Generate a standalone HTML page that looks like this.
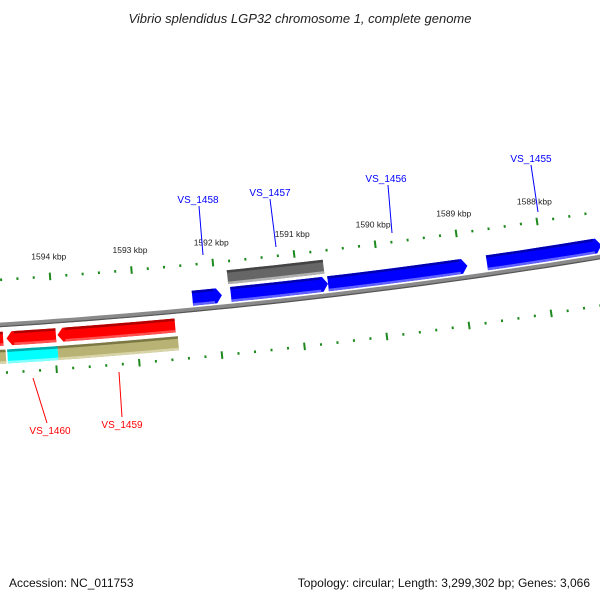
<!DOCTYPE html>
<html><head><meta charset="utf-8">
<style>
html,body{margin:0;padding:0;background:#fff;}
svg{display:block;font-family:"Liberation Sans","DejaVu Sans",sans-serif;}
</style></head>
<body>
<svg id="map" width="600" height="600" viewBox="0 0 600 600" xmlns="http://www.w3.org/2000/svg">
<rect x="0" y="0" width="600" height="600" fill="#fff"/>
<text x="300" y="23" text-anchor="middle" font-size="13" font-style="italic" fill="#222">Vibrio splendidus LGP32 chromosome 1, complete genome</text>
<text x="9" y="587" font-size="12" fill="#111">Accession: NC_011753</text>
<text x="590" y="587" text-anchor="end" font-size="12" fill="#111">Topology: circular; Length: 3,299,302 bp; Genes: 3,066</text>
<g id="layer"></g>
</svg>
<script>
// data
const majorTicks = [1595,1594,1593,1592,1591,1590,1589,1588,1587];
const tickLabels = ["1594 kbp","1593 kbp","1592 kbp","1591 kbp","1590 kbp","1589 kbp","1588 kbp"];
const tickLabelKbp = [1594,1593,1592,1591,1590,1589,1588];
const fwdStarts = [1592.29,1591.82,1590.63,1588.68];
const fwdEnds   = [1591.93,1590.63,1588.92,1587.27];
const grayStarts = [1591.84];
const grayEnds   = [1590.66];
const revStarts = [1594.75,1594.58,1593.96];
const revEnds   = [1594.62,1593.98,1592.53];
const cyanStarts = [1594.58];
const cyanEnds   = [1593.97];
const oliveStarts = [1594.75,1593.97];
const oliveEnds   = [1594.6,1592.51];
const geneNames = ["VS_1458","VS_1457","VS_1456","VS_1455","VS_1460","VS_1459"];
const geneLabelX = [198,270,386,531,50,122];
const geneLabelY = [203,196,182,162,434,428];
const geneLineFrom = [[199,206],[270,199],[388,185],[531,165],[33,378],[119,372]];
const geneLineTo = [[203,255],[276,247],[392,233],[538,212],[47,423],[122,417]];

// geometry
const R=6000, CX=-373.5, CY=-5663.5;
const PHI0=0.07118, DPHI=0.01372;
function phi(k){return PHI0+(1594-k)*DPHI;}
function pt(k,d){const p=phi(k),r=R-d;return [CX+r*Math.sin(p),CY+r*Math.cos(p)];}
const layer=document.getElementById('layer');
const NS='http://www.w3.org/2000/svg';
function mk(tag,attrs){const e=document.createElementNS(NS,tag);for(const a in attrs)e.setAttribute(a,attrs[a]);layer.appendChild(e);return e;}
function arcPts(k1,k2,d,n){const a=[];for(let i=0;i<=n;i++){a.push(pt(k1+(k2-k1)*i/n,d));}return a;}
function ps(a){return a.map(p=>p[0].toFixed(1)+','+p[1].toFixed(1)).join(' ');}

// backbone
let bb=arcPts(1595,1586.5,0,40);
let e=mk('polyline',{points:ps(bb),fill:'none',stroke:'#8a8a8a','stroke-width':4.5});


e=mk('polyline',{points:ps(arcPts(1595,1586.5,-1.8,40)),fill:'none',stroke:'#555','stroke-width':1.2});



// ticks
function tickRing(d,name){
  for(let i=0;i<=45;i++){
    const k=1595.4-i*0.2;
    const isMajor=Math.abs(k-Math.round(k))<0.01;
    const h=isMajor?3.8:1.3;
    const a=pt(k,d-h),b=pt(k,d+h);
    const t=mk('line',{x1:a[0],y1:a[1],x2:b[0],y2:b[1],stroke:'#1e8a1e','stroke-width':2});
    
    
  }
}
tickRing(45,'inner-ruler');
tickRing(-48,'outer-ruler');
tickLabelKbp.forEach((k,i)=>{
  const p=pt(k,62);
  const t=mk('text',{x:p[0].toFixed(1),y:p[1].toFixed(1),'text-anchor':'middle','font-size':'8.5',fill:'#222'});
  t.textContent=tickLabels[i];
  
  
});

// features
function feature(k1,k2,d1,d2,dir,main,dark,light,name){
  const AL=0.065;
  let pts;
  if(dir===0){pts=arcPts(k1,k2,d2,6).concat(arcPts(k2,k1,d1,6));}
  else{
    // dir 1: arrow at k2 end
    const kb=k2+(k1>k2?AL:-AL);
    pts=arcPts(k1,kb,d2,6).concat([pt(k2,(d1+d2)/2)]).concat(arcPts(kb,k1,d1,6));
  }
  const g=mk('polygon',{points:ps(pts),fill:main});
  
  
  const kb2=dir===0?k2:k2+(k1>k2?AL*1.4:-AL*1.4);
  const top=arcPts(k1,kb2,d2,6).concat(arcPts(kb2,k1,d2-2.5,6));
  let s=mk('polygon',{points:ps(top),fill:dark});
  
  
  const bot=arcPts(k1,kb2,d1+2.5,6).concat(arcPts(kb2,k1,d1,6));
  s=mk('polygon',{points:ps(bot),fill:light});
  
  
}
fwdStarts.forEach((k,i)=>feature(k,fwdEnds[i],4,19,1,'#0000ff','#0000b0','#6060ff','forward-gene'));
grayStarts.forEach((k,i)=>feature(k,grayEnds[i],22,36,0,'#666666','#444444','#b0b0b0','gray-feature'));
revStarts.forEach((k,i)=>feature(revEnds[i],k,-21,-7,1,'#ff0000','#b00000','#ff5050','reverse-gene'));
cyanStarts.forEach((k,i)=>feature(k,cyanEnds[i],-39,-25,0,'#00ffff','#00a8a8','#80ffff','cyan-feature'));
oliveStarts.forEach((k,i)=>feature(k,oliveEnds[i],-39,-25,0,'#b8b274','#7c7845','#d8d4a8','olive-feature'));

// gene labels
geneNames.forEach((n,i)=>{
  const col=i<4?'#0000ff':'#ff0000';
  const l=mk('line',{x1:geneLineFrom[i][0],y1:geneLineFrom[i][1],x2:geneLineTo[i][0],y2:geneLineTo[i][1],stroke:col,'stroke-width':1});
  
  
  const t=mk('text',{x:geneLabelX[i],y:geneLabelY[i],'text-anchor':'middle','font-size':'10',fill:col});
  t.textContent=n;
  
  
});
</script>
</body></html>
